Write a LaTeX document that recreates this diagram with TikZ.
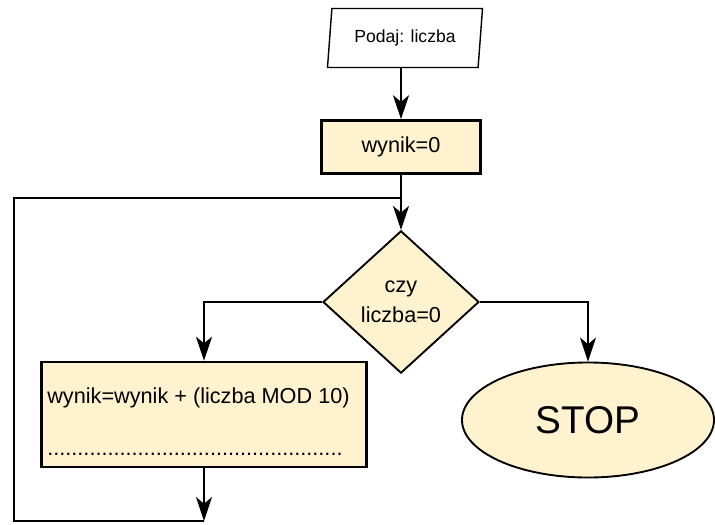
\documentclass[tikz,border=0pt]{standalone}
\usepackage{fontspec}
\setmainfont{Liberation Sans}
\usepackage{xcolor}
\usetikzlibrary{shapes.geometric,arrows.meta}

\definecolor{boxfill}{RGB}{255,242,206}

\tikzset{
  arr/.style={line width=1.6pt,-{Stealth[length=0.72cm,width=0.48cm,inset=0.2cm]}},
  line/.style={line width=1.6pt},
  procbox/.style={rectangle,draw,line width=2.2pt,fill=boxfill,inner sep=0pt},
  iobox/.style={trapezium,trapezium left angle=75,trapezium right angle=105,
    trapezium stretches body,draw,line width=1.2pt,inner sep=0pt},
  decbox/.style={diamond,draw,line width=1.6pt,fill=boxfill,inner sep=0pt},
  endbox/.style={ellipse,draw,line width=1.6pt,fill=boxfill,inner sep=0pt}
}

\begin{document}
\begin{tikzpicture}[x=0.03cm,y=-0.03cm]
\useasboundingbox (0,0) rectangle (715,525);
  \node[iobox,minimum width=4.65cm,minimum height=1.77cm] (in) at (405,38)
    {\fontsize{15}{18}\selectfont Podaj: liczba};
  \node[procbox,minimum width=4.77cm,minimum height=1.59cm] (init) at (401,147)
    {\fontsize{18.5}{22}\selectfont wynik=0};
  \node[decbox,minimum width=4.68cm,minimum height=4.08cm] (cond) at (401,302)
    {\parbox{3cm}{\centering\fontsize{18.5}{26}\selectfont czy\\liczba=0}};
  \node[procbox,minimum width=9.75cm,minimum height=3.15cm] (body) at (204,414.5)
    {\parbox{9.4cm}{\fontsize{18.5}{22}\selectfont\rule{0pt}{26pt}wynik=wynik + (liczba MOD 10)\\[0.78cm]
     .................................................}};
  \node[endbox,minimum width=7.56cm,minimum height=3.45cm] (stop) at (588,420)
    {\fontsize{33}{40}\selectfont STOP};
  \coordinate (join) at (401,198);
  \coordinate (back) at (204,521);
  \coordinate (left) at (14,198);
  % connectors
  \draw[arr] (in.south -| init.north) -- (init.north);
  \draw[line] (init.south) -- (join);
  \draw[arr] (join) -- (cond.north);
  \draw[arr] (cond.west) -| (body.north);
  \draw[arr] (cond.east) -| (stop.north);
  \draw[arr] (body.south) -- (back);
  \draw[line] (back) -| (left) -- (join);
\end{tikzpicture}
\end{document}
